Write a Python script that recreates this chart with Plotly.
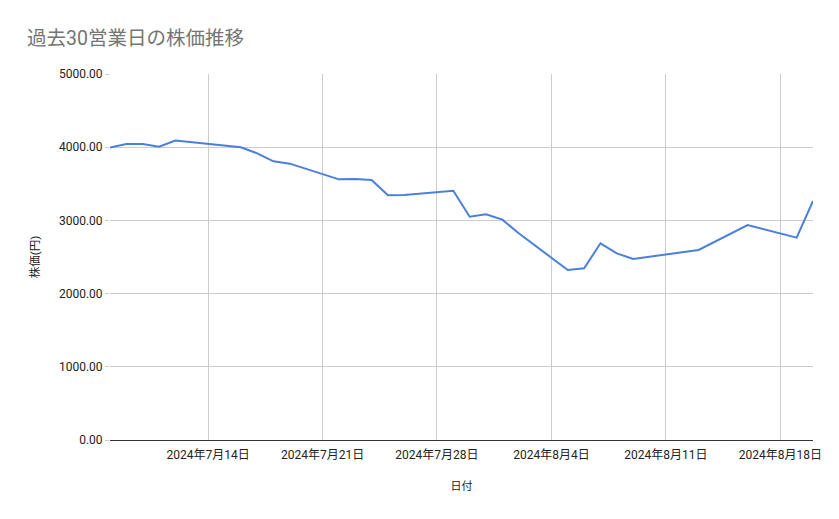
import plotly.graph_objects as go

dates = ["2024-07-08", "2024-07-09", "2024-07-10", "2024-07-11", "2024-07-12",
         "2024-07-16", "2024-07-17", "2024-07-18", "2024-07-19",
         "2024-07-22", "2024-07-23", "2024-07-24", "2024-07-25", "2024-07-26",
         "2024-07-29", "2024-07-30", "2024-07-31", "2024-08-01", "2024-08-02",
         "2024-08-05", "2024-08-06", "2024-08-07", "2024-08-08", "2024-08-09",
         "2024-08-13", "2024-08-14", "2024-08-15", "2024-08-16",
         "2024-08-19", "2024-08-20"]
prices = [3995, 4045, 4045, 4007, 4090,
          4000, 3916, 3807, 3775,
          3561, 3566, 3552, 3343, 3347,
          3406, 3051, 3083, 3010, 2825,
          2322, 2345, 2687, 2550, 2473,
          2596, 2709, 2823, 2937,
          2764, 3265]

tick_dates = ["2024-07-14", "2024-07-21", "2024-07-28", "2024-08-04", "2024-08-11", "2024-08-18"]
tick_labels = ["2024年7月14日", "2024年7月21日", "2024年7月28日", "2024年8月4日", "2024年8月11日", "2024年8月18日"]

font_family = "Roboto, 'Noto Sans CJK JP', sans-serif"

fig = go.Figure()
fig.add_trace(go.Scatter(x=dates, y=prices, mode="lines",
                         line=dict(color="#4a7fdc", width=2), showlegend=False))

W, H = 831, 511
fig.update_layout(
    width=W, height=H,
    margin=dict(l=102, r=26, t=66, b=79),
    paper_bgcolor="white", plot_bgcolor="white",
    font=dict(family=font_family, size=12, color="#222222"),
    title=dict(text="過去30営業日の株価推移", x=19 / W, xanchor="left", y=1 - 30 / H, yanchor="middle",
               font=dict(family=font_family, size=19.5, color="#757575")),
    xaxis=dict(
        range=["2024-07-08", "2024-08-20"],
        tickvals=tick_dates, ticktext=tick_labels,
        showgrid=True, gridcolor="#cccccc", gridwidth=1,
        showline=False, zeroline=False,
        ticks="outside", ticklen=4, tickcolor="rgba(0,0,0,0)",
        tickfont=dict(size=12, color="#222222"),
        title=dict(text="日付", font=dict(size=11, color="#222222"), standoff=20),
    ),
    yaxis=dict(
        range=[0, 5000], tickvals=[0, 1000, 2000, 3000, 4000, 5000],
        tickformat=".2f",
        showgrid=True, gridcolor="#cccccc", gridwidth=1,
        zeroline=True, zerolinecolor="#333333", zerolinewidth=1,
        ticks="outside", ticklen=4, tickcolor="#cccccc",
        tickfont=dict(size=12, color="#222222"),
        title=dict(text="株価(円)", font=dict(size=11.5, color="#222222"), standoff=16),
    ),
)

fig.write_html("out.html")
